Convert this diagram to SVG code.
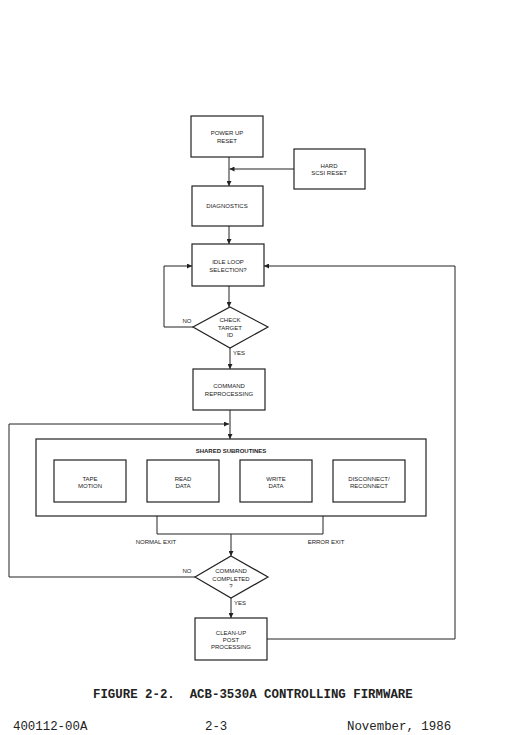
<svg xmlns="http://www.w3.org/2000/svg" width="509" height="735" viewBox="0 0 509 735">
<style>
.box{fill:none;stroke:#222;stroke-width:1.2}
.t{font-family:"Liberation Sans",Arial,sans-serif;font-size:6px;fill:#222;text-anchor:middle;dominant-baseline:central}
.b{font-weight:bold}
.c{fill:none;stroke:#222;stroke-width:1}
.cap{font-family:"Liberation Mono","Courier New",monospace;font-size:12.4px;fill:#222}
</style>
<defs>
<marker id="ah" viewBox="0 0 8 8" refX="8" refY="4" markerWidth="5" markerHeight="5" orient="auto" markerUnits="userSpaceOnUse">
<path d="M0,0 L8,4 L0,8 z" fill="#222"/>
</marker>
</defs>
<rect width="509" height="735" fill="#fff"/>
<g id="connectors">
<path class="c" d="M229,157 V186" marker-end="url(#ah)"/>
<path class="c" d="M294,169 H229.5" marker-end="url(#ah)"/>
<path class="c" d="M229,226 V244" marker-end="url(#ah)"/>
<path class="c" d="M229,286 V307" marker-end="url(#ah)"/>
<path class="c" d="M193,327 H164 V266 H192" marker-end="url(#ah)"/>
<path class="c" d="M230,348 V369" marker-end="url(#ah)"/>
<path class="c" d="M230,410 V439" marker-end="url(#ah)"/>
<path class="c" d="M195,577 H9 V424 H229" marker-end="url(#ah)"/>
<path class="c" d="M157,516 V534 H323 V516"/>
<path class="c" d="M231,534 V556" marker-end="url(#ah)"/>
<path class="c" d="M231,598 V618" marker-end="url(#ah)"/>
<path class="c" d="M267,639 H455 V266 H264" marker-end="url(#ah)"/>
</g>
<g id="power-up">
<rect class="box" x="191" y="116" width="72" height="41"/>
<text class="t" x="227" y="133">POWER UP</text>
<text class="t" x="227" y="141">RESET</text>
</g>
<g id="hard-reset">
<rect class="box" x="294" y="149" width="71" height="40"/>
<text class="t" x="329" y="166">HARD</text>
<text class="t" x="329" y="173">SCSI RESET</text>
</g>
<g id="diagnostics">
<rect class="box" x="192" y="186" width="71" height="40"/>
<text class="t" x="227" y="206">DIAGNOSTICS</text>
</g>
<g id="idle-loop">
<rect class="box" x="192" y="244" width="72" height="42"/>
<text class="t" x="228" y="262">IDLE LOOP</text>
<text class="t" x="228" y="270">SELECTION?</text>
</g>
<g id="check-target">
<polygon class="box" points="230,307 268,327 230,348 193,327"/>
<text class="t" x="230" y="320">CHECK</text>
<text class="t" x="230" y="327.5">TARGET</text>
<text class="t" x="230" y="335">ID</text>
<text class="t" x="187" y="321">NO</text>
<text class="t" x="239" y="353">YES</text>
</g>
<g id="command-reprocessing">
<rect class="box" x="193" y="369" width="72" height="41"/>
<text class="t" x="229" y="386">COMMAND</text>
<text class="t" x="229" y="393.5">REPROCESSING</text>
</g>
<g id="shared-subroutines">
<rect class="box" x="36" y="439" width="390" height="77" stroke-width="1.4"/>
<text class="t b" x="231" y="451">SHARED SUBROUTINES</text>
</g>
<g id="tape-motion">
<rect class="box" x="54" y="460" width="72" height="42"/>
<text class="t" x="90" y="478.5">TAPE</text>
<text class="t" x="90" y="485.5">MOTION</text>
</g>
<g id="read-data">
<rect class="box" x="147" y="460" width="72" height="42"/>
<text class="t" x="183" y="478.5">READ</text>
<text class="t" x="183" y="485.5">DATA</text>
</g>
<g id="write-data">
<rect class="box" x="240" y="460" width="72" height="42"/>
<text class="t" x="276" y="478.5">WRITE</text>
<text class="t" x="276" y="485.5">DATA</text>
</g>
<g id="disconnect">
<rect class="box" x="333" y="460" width="72" height="42"/>
<text class="t" x="369" y="478.5">DISCONNECT/</text>
<text class="t" x="369" y="485.5">RECONNECT</text>
</g>
<g id="exit-labels">
<text class="t" x="156" y="542">NORMAL EXIT</text>
<text class="t" x="326" y="542">ERROR EXIT</text>
</g>
<g id="command-completed">
<polygon class="box" points="231,556 268,577 231,598 195,577"/>
<text class="t" x="231" y="571">COMMAND</text>
<text class="t" x="231" y="579">COMPLETED</text>
<text class="t" x="231" y="586">?</text>
<text class="t" x="187" y="571">NO</text>
<text class="t" x="240" y="603">YES</text>
</g>
<g id="clean-up">
<rect class="box" x="195" y="618" width="72" height="42"/>
<text class="t" x="231" y="633">CLEAN-UP</text>
<text class="t" x="231" y="640">POST</text>
<text class="t" x="231" y="647">PROCESSING</text>
</g>
<g id="caption">
<text class="cap" x="93" y="698" font-weight="bold" xml:space="preserve">FIGURE 2-2.  ACB-3530A CONTROLLING FIRMWARE</text>
<text class="cap" x="13" y="730">400112-00A</text>
<text class="cap" x="205" y="730">2-3</text>
<text class="cap" x="347" y="730">November, 1986</text>
</g>
</svg>
